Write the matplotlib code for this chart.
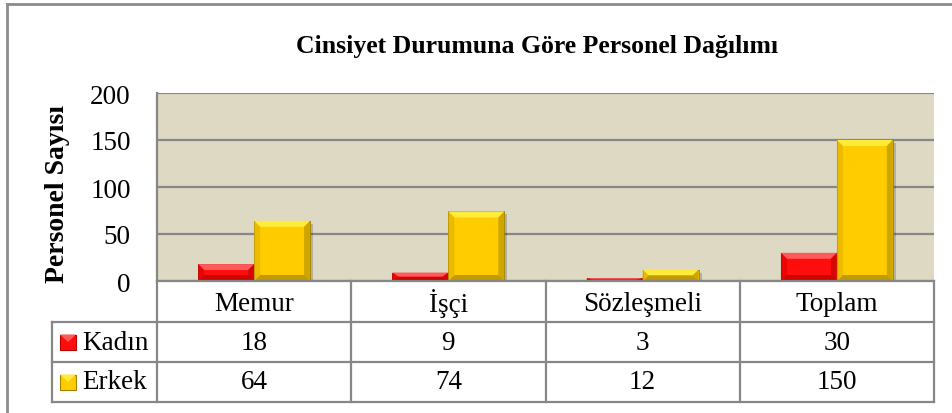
import numpy as np
import matplotlib
matplotlib.use("Agg")
from matplotlib import pyplot as plt
from matplotlib.patches import Polygon, Rectangle
from matplotlib.lines import Line2D

# Veriler
kategoriler = ["Memur", "İşçi", "Sözleşmeli", "Toplam"]
kadin = [18, 9, 3, 30]
erkek = [64, 74, 12, 150]
seriler = ["Kadın", "Erkek"]
y_ticks = [0, 50, 100, 150, 200]

# Renkler: ana, acik, koyu, orta
renk = {
    "Kadın": ("#ff0d0d", "#ff5a5a", "#b00000", "#d80000"),
    "Erkek": ("#ffcc00", "#ffec3a", "#a08000", "#e0b000"),
}
zemin = "#ddd9c3"
cizgi = "#878787"
font = "Liberation Serif"
fs = 19.5

fig = plt.figure(figsize=(9.52, 4.14), dpi=100)
W, H = 952, 414
ax = fig.add_axes([157 / W, 1 - 282 / H, 777 / W, 188 / H])
ax.set_facecolor(zemin)
ax.set_xlim(-0.5, 3.5)
ax.set_ylim(0, 200)
ax.set_yticks(y_ticks)
ax.set_xticks([])
ax.yaxis.grid(True, color=cizgi, lw=1.6)
ax.set_axisbelow(True)
for s in ["top", "right", "bottom"]:
    ax.spines[s].set_visible(False)
ax.spines["left"].set_color(cizgi)
ax.spines["left"].set_linewidth(1.6)
ax.tick_params(axis="y", length=0, pad=19, labelsize=fs)
for t in ax.get_yticklabels():
    t.set_fontfamily(font)

# cerceve (sol ve ust)
fig.add_artist(Line2D([7 / W, 7 / W], [0, 1 - 5 / H], color="#8c8c8c", lw=2, transform=fig.transFigure))
fig.add_artist(Line2D([7 / W, 1], [1 - 5 / H, 1 - 5 / H], color="#8c8c8c", lw=2, transform=fig.transFigure))

genislik = 0.288
px_x = 777 / 4.0   # piksel / kategori
px_y = 188 / 200.0  # piksel / birim


def egik_cubuk(x0, h, renkler):
    ana, acik, koyu, orta = renkler
    # golge
    ax.add_patch(Rectangle((x0 + 3 / px_x, -3 / px_y), genislik, h, facecolor="#000000",
                           alpha=0.18, lw=0, zorder=2.5, clip_on=False))
    bars = ax.bar(x0, h, width=genislik, align="edge", color=ana, zorder=3,
                  edgecolor=koyu, linewidth=0.6)
    bx = min(6 / px_x, genislik / 2)
    by = min(6 / px_y, h / 2)
    x1 = x0 + genislik
    ust = Polygon([(x0, h), (x1, h), (x1 - bx, h - by), (x0 + bx, h - by)],
                  closed=True, color=acik, zorder=4, lw=0)
    sag = Polygon([(x1, h), (x1, 0), (x1 - bx, by), (x1 - bx, h - by)],
                  closed=True, color=koyu, zorder=4, lw=0, alpha=0.5)
    alt = Polygon([(x0, 0), (x1, 0), (x1 - bx, by), (x0 + bx, by)],
                  closed=True, color=koyu, zorder=4, lw=0, alpha=0.65)
    sol = Polygon([(x0, 0), (x0, h), (x0 + bx, h - by), (x0 + bx, by)],
                  closed=True, color=orta, zorder=4, lw=0, alpha=0.6)
    for p in (ust, sag, alt, sol):
        ax.add_patch(p)
    return bars


x = np.arange(len(kategoriler))
for i in range(len(kategoriler)):
    egik_cubuk(x[i] - genislik, kadin[i], renk["Kadın"])
    egik_cubuk(x[i], erkek[i], renk["Erkek"])

# Baslik ve eksen etiketi
fig.text(537 / W, 1 - 46 / H, "Cinsiyet Durumuna Göre Personel Dağılımı",
         ha="center", va="center", fontsize=18.5, fontweight="bold", fontfamily=font)
fig.text(58 / W, 1 - 194 / H, "Personel Sayısı", rotation=90, ha="center", va="center",
         fontsize=20, fontweight="bold", fontfamily=font)

# Veri tablosu (eksen koordinatlari)
tr = ax.transAxes
sol_x = (52 - 157) / 777
satirlar = [0, -(323 - 282) / 188, -(363 - 282) / 188, -(403 - 282) / 188]
lw = 1.6


def cizgi_ekle(xs, ys):
    ax.add_line(Line2D(xs, ys, transform=tr, color=cizgi, lw=lw, clip_on=False, zorder=5))


# yatay cizgiler
cizgi_ekle([0, 1], [satirlar[0], satirlar[0]])
for yy in satirlar[1:]:
    cizgi_ekle([sol_x, 1], [yy, yy])
# dikey cizgiler
for k in range(len(kategoriler) + 1):
    cizgi_ekle([k / 4, k / 4], [satirlar[0], satirlar[3]])
cizgi_ekle([sol_x, sol_x], [satirlar[1], satirlar[3]])

# tablo arka plani beyaz (golgeleri ortmek icin)
ax.add_patch(Rectangle((0, satirlar[1]), 1, -satirlar[1], transform=tr, facecolor="white",
                       lw=0, clip_on=False, zorder=2.8))

for k, ad in enumerate(kategoriler):
    ax.text((k + 0.5) / 4, (satirlar[0] + satirlar[1]) / 2 - 0.008, ad, transform=tr,
            ha="center", va="center", fontsize=fs, fontfamily=font, clip_on=False)
    ax.text((k + 0.5) / 4, (satirlar[1] + satirlar[2]) / 2, str(kadin[k]), transform=tr,
            ha="center", va="center", fontsize=fs, fontfamily=font, clip_on=False)
    ax.text((k + 0.5) / 4, (satirlar[2] + satirlar[3]) / 2, str(erkek[k]), transform=tr,
            ha="center", va="center", fontsize=fs, fontfamily=font, clip_on=False)

# lejant kareleri
for j, ad in enumerate(seriler):
    yc = (satirlar[j + 1] + satirlar[j + 2]) / 2
    ana, acik, koyu, orta = renk[ad]
    kx = (60 - 157) / 777
    kw = 16 / 777
    kh = 15 / 188
    ax.add_patch(Rectangle((kx, yc - kh / 2), kw, kh, transform=tr, facecolor=ana,
                           edgecolor=koyu, lw=0.8, clip_on=False, zorder=6))
    ax.add_patch(Polygon([(kx, yc + kh / 2), (kx + kw, yc + kh / 2),
                          (kx + kw / 2, yc)], closed=True, transform=tr,
                         color=acik, lw=0, clip_on=False, zorder=7))
    ax.text((82 - 157) / 777, yc, ad, transform=tr, ha="left", va="center",
            fontsize=fs, fontfamily=font, clip_on=False)

fig.savefig("out.png", dpi=100)
